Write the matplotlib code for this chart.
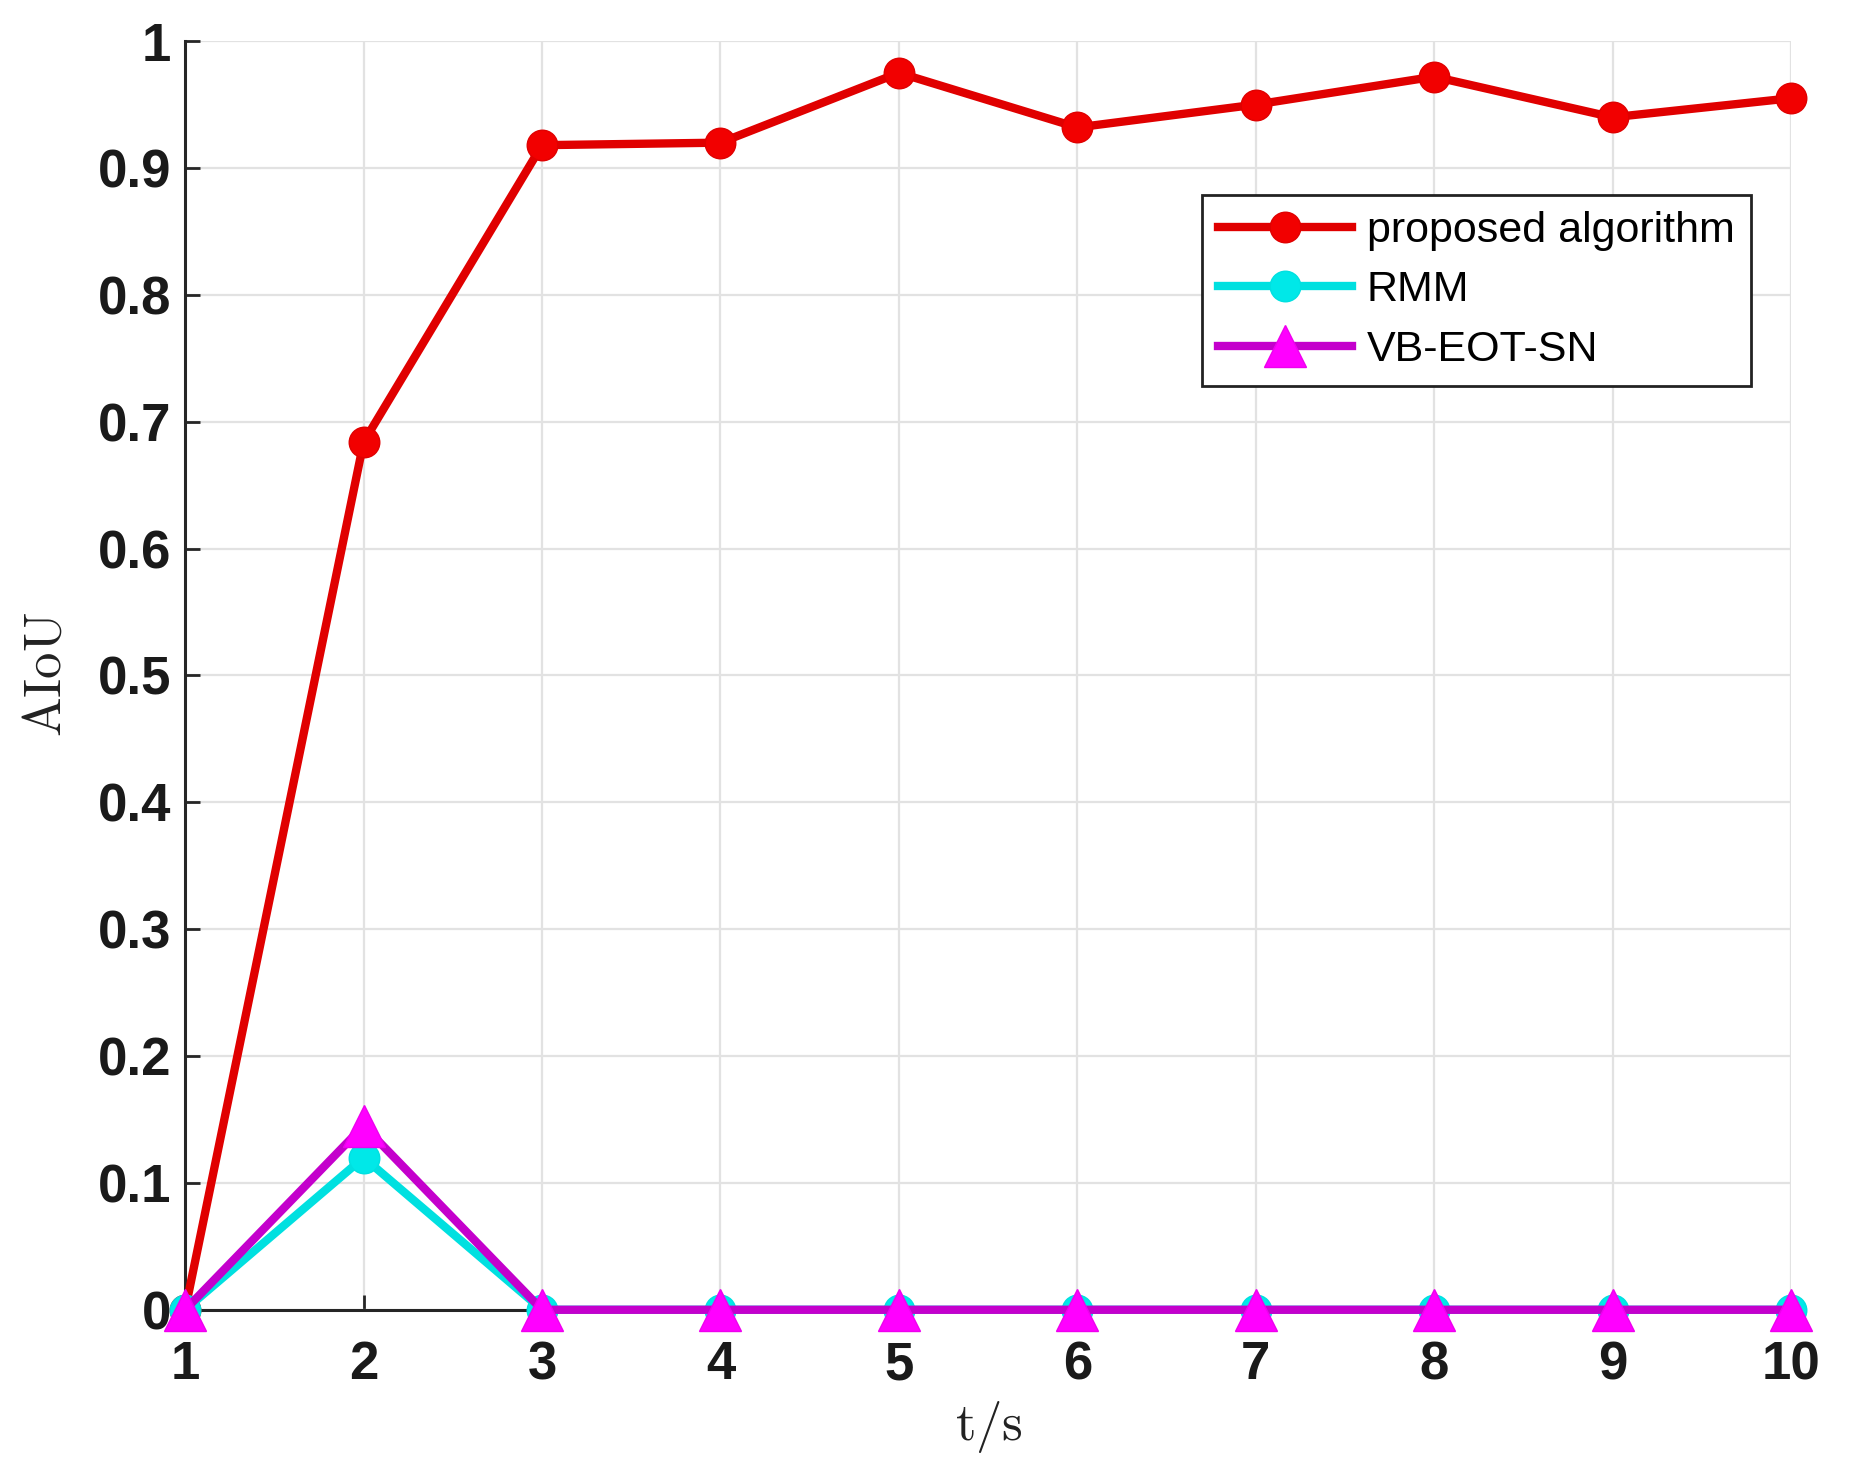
import numpy as np
import matplotlib
matplotlib.use('Agg')
import matplotlib.pyplot as plt

# values
t = [1, 2, 3, 4, 5, 6, 7, 8, 9, 10]
proposed = [0.0, 0.684, 0.918, 0.920, 0.975, 0.932, 0.950, 0.972, 0.940, 0.955]
rmm = [0.0, 0.120, 0.0, 0.0, 0.0, 0.0, 0.0, 0.0, 0.0, 0.0]
vb_eot_sn = [0.0, 0.145, 0.0, 0.0, 0.0, 0.0, 0.0, 0.0, 0.0, 0.0]
labels = ['proposed algorithm', 'RMM', 'VB-EOT-SN']
yticks = [0, 0.1, 0.2, 0.3, 0.4, 0.5, 0.6, 0.7, 0.8, 0.9, 1]
ytick_labels = ['0', '0.1', '0.2', '0.3', '0.4', '0.5', '0.6', '0.7', '0.8', '0.9', '1']

plt.rcParams['font.family'] = ['Liberation Sans', 'DejaVu Sans']
plt.rcParams['mathtext.fontset'] = 'cm'

fig = plt.figure(figsize=(18.5, 14.7), dpi=100)
ax = fig.add_axes([0.1001, 0.109, 0.868, 0.863])

ax.plot(t, proposed, '-o', color='#e00000', lw=6, ms=22,
        mfc='#f20000', mec='#e00000', label=labels[0], zorder=3, clip_on=False)
ax.plot(t, rmm, '-o', color='#00e0e0', lw=6, ms=22,
        mfc='#00e8e8', mec='#00e0e0', label=labels[1], zorder=4, clip_on=False)
ax.plot(t, vb_eot_sn, '-^', color='#c400cc', lw=6, ms=30,
        mfc='#ff00ff', mec='#ee00ee', label=labels[2], zorder=5, clip_on=False)

ax.set_xlim(1, 10)
ax.set_ylim(0, 1)
ax.set_xticks(t)
ax.set_yticks(yticks)
ax.set_yticklabels(ytick_labels)
ax.tick_params(direction='in', length=11, width=2, color='#262626',
               labelsize=38, labelcolor='#1a1a1a')
ax.tick_params(axis='x', pad=22)
ax.tick_params(axis='y', pad=10)
for lab in ax.get_xticklabels() + ax.get_yticklabels():
    lab.set_fontweight('bold')

ax.grid(True, color='#e2e2e2', lw=1.6)
ax.set_axisbelow(True)
for side in ['top', 'right']:
    ax.spines[side].set_visible(False)
for side in ['left', 'bottom']:
    ax.spines[side].set_color('#262626')
    ax.spines[side].set_linewidth(2.2)

leg = ax.legend(loc='upper right', bbox_to_anchor=(0.975, 0.879), borderaxespad=0,
                fontsize=31, handlelength=3.1, handletextpad=0.35,
                labelspacing=0.45, borderpad=0.38, fancybox=False, framealpha=1)
leg.get_frame().set_edgecolor('#222222')
leg.get_frame().set_linewidth(2)

fig.text(47 / 1850, 1 - 675 / 1470, r'$\mathrm{AIoU}$', rotation=90,
         ha='center', va='center', fontsize=38, color='#222222')
fig.text(989 / 1850, 1 - 1427 / 1470, r'$\mathrm{t/s}$',
         ha='center', va='center', fontsize=38, color='#222222')

fig.savefig('out.png', dpi=100, facecolor='white')
